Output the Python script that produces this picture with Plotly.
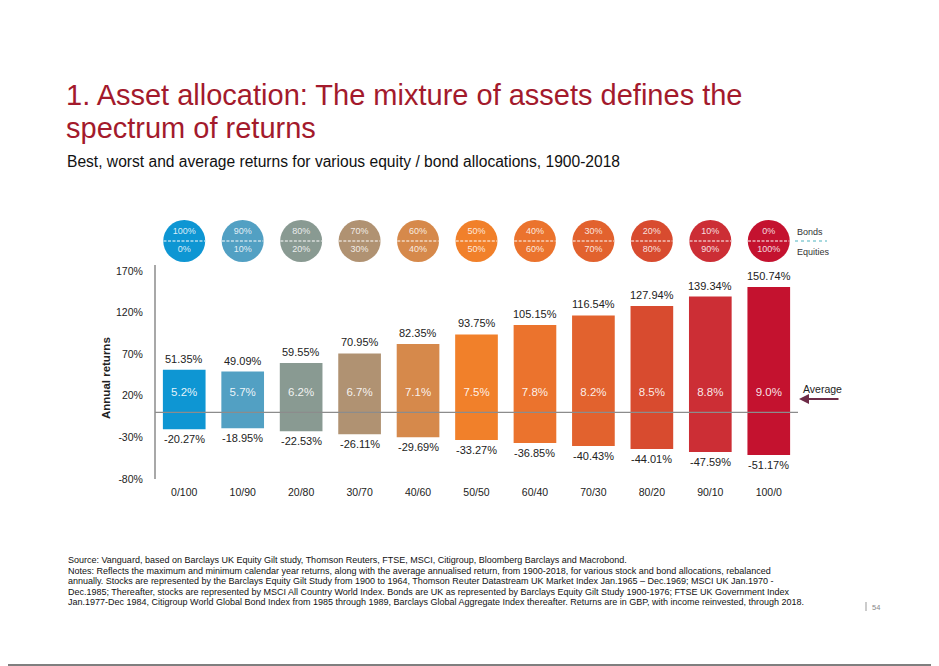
import plotly.graph_objects as go

# allocations (equity / bond)
categories = ["0/100", "10/90", "20/80", "30/70", "40/60", "50/50",
              "60/40", "70/30", "80/20", "90/10", "100/0"]
bonds_pct = ["100%", "90%", "80%", "70%", "60%", "50%", "40%", "30%", "20%", "10%", "0%"]
equity_pct = ["0%", "10%", "20%", "30%", "40%", "50%", "60%", "70%", "80%", "90%", "100%"]

best = [51.35, 49.09, 59.55, 70.95, 82.35, 93.75, 105.15, 116.54, 127.94, 139.34, 150.74]
worst = [-20.27, -18.95, -22.53, -26.11, -29.69, -33.27, -36.85, -40.43, -44.01, -47.59, -51.17]
average = [5.2, 5.7, 6.2, 6.7, 7.1, 7.5, 7.8, 8.2, 8.5, 8.8, 9.0]

colors = ["#0E96D3", "#52A0C3", "#899A92", "#B09272", "#D6894B", "#F1802A",
          "#EB732D", "#E2622E", "#D84B2F", "#CC2E35", "#C4122F"]

y_ticks = [-80, -30, 20, 70, 120, 170]

# page geometry (page pixels; the html body adds an 8px offset)
OFF = 8
W, H = 939, 666
L, R, T, B = 155, 798, 205, 479
Y_MIN = -80
SCALE = (479 - 271) / 250.0          # px per percentage point
Y_MAX = Y_MIN + (B - T) / SCALE


def px_x(p):
    return (p - L) / (R - L)


def px_y(p):
    return (B - p) / (B - T)


def px_val(p):
    return Y_MIN + (B - p) / SCALE


font_main = "Liberation Sans, Arial, sans-serif"

fig = go.Figure()

# floating bars: worst -> best
fig.add_trace(go.Bar(
    x=categories,
    y=[b - w for b, w in zip(best, worst)],
    base=worst,
    marker=dict(color=colors, line=dict(width=0)),
    hoverinfo="skip",
))

# average labels inside bars
fig.add_trace(go.Scatter(
    x=categories, y=[px_val(393)] * len(categories), mode="text",
    text=[f"{v:.1f}%" for v in average],
    textposition="middle center",
    textfont=dict(size=11.5, color="rgba(255,255,255,0.9)", family=font_main),
    hoverinfo="skip",
))

# allocation circles
fig.add_trace(go.Scatter(
    x=categories, y=[px_val(241)] * len(categories), mode="markers",
    marker=dict(size=42, color=colors, line=dict(width=0)),
    hoverinfo="skip",
))
fig.add_trace(go.Scatter(
    x=categories, y=[px_val(232)] * len(categories), mode="text",
    text=bonds_pct, textposition="middle center",
    textfont=dict(size=9, color="rgba(255,255,255,0.85)", family=font_main),
    hoverinfo="skip",
))
fig.add_trace(go.Scatter(
    x=categories, y=[px_val(250)] * len(categories), mode="text",
    text=equity_pct, textposition="middle center",
    textfont=dict(size=9, color="rgba(255,255,255,0.85)", family=font_main),
    hoverinfo="skip",
))

shapes = []
for i in range(len(categories)):
    shapes.append(dict(type="line", xref="x", yref="y",
                       x0=i - 0.355, x1=i + 0.355, y0=px_val(241), y1=px_val(241),
                       line=dict(color="white", width=1, dash="3px,1.5px")))

# y axis line (stops at the top of the value scale)
shapes.append(dict(type="line", xref="paper", yref="y", x0=0, x1=0,
                   y0=Y_MIN, y1=px_val(265),
                   line=dict(color="#A8A8A8", width=2)))
# zero line across bars
shapes.append(dict(type="line", xref="paper", yref="y", x0=0, x1=1, y0=0, y1=0,
                   line=dict(color="#8C8C8C", width=1.2), layer="above"))
# bonds / equities divider
shapes.append(dict(type="line", xref="paper", yref="paper",
                   x0=px_x(795), x1=px_x(827), y0=px_y(241), y1=px_y(241),
                   line=dict(color="#4FB3BF", width=1, dash="dot")))
# page bottom rule
shapes.append(dict(type="line", xref="paper", yref="paper",
                   x0=px_x(0), x1=px_x(W + OFF), y0=px_y(665), y1=px_y(665),
                   line=dict(color="#555555", width=1.5)))
# page number bar
shapes.append(dict(type="line", xref="paper", yref="paper",
                   x0=px_x(866), x1=px_x(866), y0=px_y(602), y1=px_y(611),
                   line=dict(color="#999999", width=1)))

annotations = [
    dict(text="1. Asset allocation: The mixture of assets defines the",
         x=px_x(64), y=px_y(95), xanchor="left", yanchor="middle",
         font=dict(size=29, color="#A31A2C", family=font_main)),
    dict(text="spectrum of returns",
         x=px_x(64), y=px_y(128), xanchor="left", yanchor="middle",
         font=dict(size=29, color="#A31A2C", family=font_main)),
    dict(text="Best, worst and average returns for various equity / bond allocations, 1900-2018",
         x=px_x(65), y=px_y(162), xanchor="left", yanchor="middle",
         font=dict(size=15.6, color="#111111", family=font_main)),
    dict(text="<b>Annual returns</b>", textangle=-90,
         x=px_x(106), y=px_y(378), xanchor="center", yanchor="middle",
         font=dict(size=11.5, color="#222222", family=font_main)),
    dict(text="Bonds", x=px_x(795), y=px_y(232), xanchor="left", yanchor="middle",
         font=dict(size=9, color="#333333", family=font_main)),
    dict(text="Equities", x=px_x(795), y=px_y(252), xanchor="left", yanchor="middle",
         font=dict(size=9, color="#333333", family=font_main)),
    dict(text="Average", x=px_x(822), y=px_y(389), xanchor="center", yanchor="middle",
         font=dict(size=10.5, color="#222222", family=font_main)),
    dict(text="", x=px_x(799), y=px_y(399), ax=41, ay=0, showarrow=True,
         arrowhead=2, arrowsize=1, arrowwidth=2, arrowcolor="#6E2B47"),
    dict(text="54", x=px_x(870), y=px_y(607), xanchor="left", yanchor="middle",
         font=dict(size=7.5, color="#888888", family=font_main)),
]

footer = [
    "Source: Vanguard, based on Barclays UK Equity Gilt study, Thomson Reuters, FTSE, MSCI, Citigroup, Bloomberg Barclays and Macrobond.",
    "Notes: Reflects the maximum and minimum calendar year returns, along with the average annualised return, from 1900-2018, for various stock and bond allocations, rebalanced",
    "annually. Stocks are represented by the Barclays Equity Gilt Study from 1900 to 1964, Thomson Reuter Datastream UK Market Index Jan.1965 \u2013 Dec.1969; MSCI UK Jan.1970 -",
    "Dec.1985; Thereafter, stocks are represented by MSCI All Country World Index. Bonds are UK as represented by Barclays Equity Gilt Study 1900-1976; FTSE UK Government Index",
    "Jan.1977-Dec 1984, Citigroup World Global Bond Index from 1985 through 1989, Barclays Global Aggregate Index thereafter. Returns are in GBP, with income reinvested, through 2018.",
]
for k, line in enumerate(footer):
    annotations.append(dict(text=line, x=px_x(66), y=px_y(560 + k * 10.5),
                            xanchor="left", yanchor="middle",
                            font=dict(size=9, color="#111111", family=font_main)))

for a in annotations:
    a.setdefault("xref", "paper")
    a.setdefault("yref", "paper")
    a.setdefault("showarrow", False)

# best / worst labels above and below each bar
for c, hi, lo in zip(categories, best, worst):
    annotations.append(dict(text=f"{hi:.2f}%", x=c, y=hi, xref="x", yref="y",
                            yshift=11, showarrow=False, yanchor="middle",
                            font=dict(size=11, color="#222222", family=font_main)))
    annotations.append(dict(text=f"{lo:.2f}%", x=c, y=lo, xref="x", yref="y",
                            yshift=-10, showarrow=False, yanchor="middle",
                            font=dict(size=11, color="#222222", family=font_main)))

fig.update_layout(
    width=W, height=H,
    margin=dict(l=L - OFF, r=W - (R - OFF), t=T - OFF, b=H - (B - OFF), pad=0),
    paper_bgcolor="white", plot_bgcolor="white",
    showlegend=False,
    bargap=0.27,
    font=dict(family=font_main, size=11, color="#222222"),
    shapes=shapes,
    annotations=annotations,
    xaxis=dict(range=[-0.5, len(categories) - 0.5],
               showgrid=False, zeroline=False, showline=False,
               ticks="outside", ticklen=3, tickcolor="rgba(0,0,0,0)",
               tickfont=dict(size=10.5, color="#222222"), fixedrange=True),
    yaxis=dict(range=[Y_MIN, Y_MAX], tickvals=y_ticks,
               ticktext=[f"{v}%" for v in y_ticks],
               showgrid=False, zeroline=False, showline=False,
               ticks="outside", ticklen=9, tickcolor="rgba(0,0,0,0)",
               tickfont=dict(size=10.5, color="#222222"), fixedrange=True),
)

fig.write_html("out.html")
